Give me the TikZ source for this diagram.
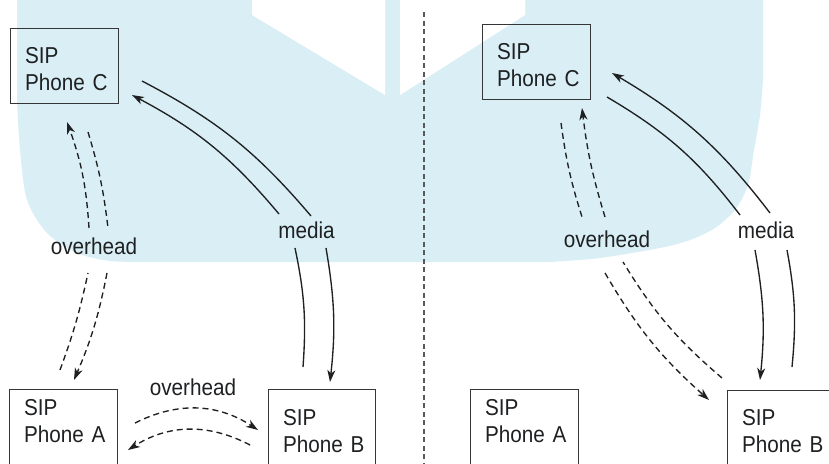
\documentclass[tikz,border=0pt]{standalone}
\usepackage{fontspec}
\setmainfont{Liberation Sans}[FakeStretch=0.9]
\usetikzlibrary{arrows.meta}
\definecolor{wmblue}{RGB}{217,239,245}
\definecolor{ink}{RGB}{30,32,34}

\begin{document}
\begin{tikzpicture}[x=1pt,y=-1pt,
  every node/.style={font=\fontsize{23}{27}\selectfont, text=ink},
  phone/.style={draw=ink!90, line width=1.3pt, rectangle, anchor=north west,
                inner xsep=14.5pt, inner ysep=0pt, align=left},
  flow/.style={draw=ink, line width=1.35pt},
  ovh/.style={flow, dash pattern=on 6pt off 4pt},
  tip/.style={-{Stealth[length=12pt,width=8pt,inset=3.5pt]}},
  tag/.style={inner sep=0pt, anchor=base},
  divider/.style={draw=ink!75, line width=1.3pt, dash pattern=on 5pt off 3.5pt},
]
\useasboundingbox (0,0) rectangle (829,463);

% light backdrop with the two white leaves on top
\fill[wmblue] (17,-5) -- plot[smooth] coordinates {(17,100) (20,150) (27,200) (47,233) (77,253) (110,261) (150,262)}
  -- plot[smooth] coordinates {(550,262) (600,258) (660,248) (690,240) (715,228) (735,210) (748,185) (754,150) (760,115) (763,80)}
  -- (763,-5) -- cycle;
\fill[white] (252,-5) -- (252,15) -- (385,95) -- (385,-5) -- cycle;
\fill[white] (400,-5) -- (400,95) -- (525,15) -- (525,-5) -- cycle;

% divider between the two set-ups
\coordinate (dtop) at (424,12);
\coordinate (dbot) at (424,470);
\draw[divider] (dtop) -- (dbot);

% ---------- left set-up ----------
\node[phone, text width=79pt] (Cl) at (10,28) {\rule{0pt}{35pt}SIP\\\mbox{Phone C}\rule[-13pt]{0pt}{13pt}};
\node[phone, text width=79pt] (Al) at (9,389) {\rule{0pt}{26pt}SIP\\\mbox{Phone A}\rule[-38pt]{0pt}{38pt}};
\node[phone, text width=78pt] (Bl) at (268,389) {\rule{0pt}{36pt}SIP\\\mbox{Phone B}\rule[-28pt]{0pt}{28pt}};

\node[tag] (ovl) at (94,254) {overhead};
\node[tag] (mdl) at (306.5,238) {media};
\node[tag] (ovb) at (193,395) {overhead};

% overhead A <-> C
\coordinate (la1) at (60,370);  \coordinate (la2) at (88,273);
\coordinate (la3) at (89,228);  \coordinate (la4) at (67,122);
\draw[ovh] (la1) to[bend right=4] (la2);
\draw[ovh,tip] (la3) to[bend right=8] (la4);
\coordinate (lb1) at (88,132);  \coordinate (lb2) at (108,228);
\coordinate (lb3) at (107,273); \coordinate (lb4) at (74,380);
\draw[ovh] (lb1) to[bend left=5] (lb2);
\draw[ovh,tip] (lb3) to[bend left=6] (lb4);

% media C <-> B
\coordinate (lm1) at (142,81);  \coordinate (lm2) at (311,216);
\coordinate (lm3) at (326,248); \coordinate (lm4) at (330,382);
\draw[flow] (lm1) to[bend left=11] (lm2);
\draw[flow,tip] (lm3) to[bend left=8] (lm4);
\coordinate (ln1) at (303,367); \coordinate (ln2) at (295,248);
\coordinate (ln3) at (279,214); \coordinate (ln4) at (132,95);
\draw[flow] (ln1) to[bend right=8] (ln2);
\draw[flow,tip] (ln3) to[bend right=11] (ln4);

% overhead A <-> B
\coordinate (bo1) at (135,423); \coordinate (bo2) at (258,430);
\draw[ovh,tip] (bo1) to[bend left=30] (bo2);
\coordinate (bp1) at (250,445); \coordinate (bp2) at (128,450);
\draw[ovh,tip] (bp1) to[bend right=30] (bp2);

% ---------- right set-up ----------
\node[phone, text width=79pt] (Cr) at (482,24) {\rule{0pt}{35pt}SIP\\\mbox{Phone C}\rule[-13pt]{0pt}{13pt}};
\node[phone, text width=79pt] (Ar) at (470,389) {\rule{0pt}{26pt}SIP\\\mbox{Phone A}\rule[-38pt]{0pt}{38pt}};
\node[phone, text width=84pt] (Br) at (727,390) {\rule{0pt}{35pt}SIP\\\mbox{Phone B}\rule[-28pt]{0pt}{28pt}};

\node[tag] (ovr) at (607,247) {overhead};
\node[tag] (mdr) at (766,238) {media};

% overhead C <-> B
\coordinate (ra1) at (561,123); \coordinate (ra2) at (583,220);
\coordinate (ra3) at (605,273); \coordinate (ra4) at (709,400);
\draw[ovh] (ra1) to[bend right=5] (ra2);
\draw[ovh,tip] (ra3) to[bend right=9] (ra4);
\coordinate (rb1) at (722,378); \coordinate (rb2) at (623,262);
\coordinate (rb3) at (605,217); \coordinate (rb4) at (582,108);
\draw[ovh] (rb1) to[bend left=9] (rb2);
\draw[ovh,tip] (rb3) to[bend left=5] (rb4);

% media C <-> B
\coordinate (rm1) at (607,97);  \coordinate (rm2) at (740,215);
\coordinate (rm3) at (755,250); \coordinate (rm4) at (760,380);
\draw[flow] (rm1) to[bend left=11] (rm2);
\draw[flow,tip] (rm3) to[bend left=8] (rm4);
\coordinate (rn1) at (792,367); \coordinate (rn2) at (787,250);
\coordinate (rn3) at (770,213); \coordinate (rn4) at (612,73);
\draw[flow] (rn1) to[bend right=8] (rn2);
\draw[flow,tip] (rn3) to[bend right=11] (rn4);
\end{tikzpicture}
\end{document}
